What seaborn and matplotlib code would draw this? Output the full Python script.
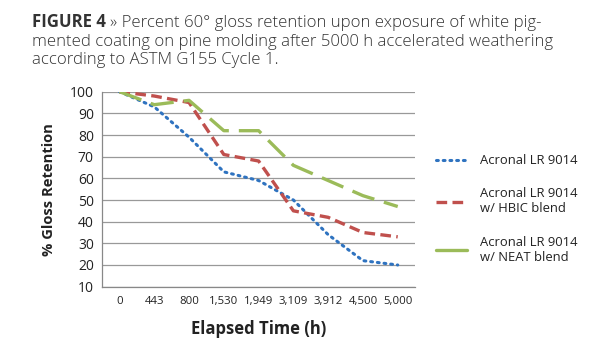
import matplotlib
matplotlib.use("Agg")
import matplotlib.pyplot as plt
import seaborn as sns
import pandas as pd
from matplotlib.lines import Line2D

categories = ["0", "443", "800", "1,530", "1,949", "3,109", "3,912", "4,500", "5,000"]
acronal = [100, 93, 79, 63, 59, 50, 34, 22, 20]
hbic = [100, 98, 95, 71, 68, 45, 42, 35, 33]
neat = [100, 94, 96, 82, 82, 66, 59, 52, 47]
series_names = ["Acronal LR 9014", "Acronal LR 9014\nw/ HBIC blend", "Acronal LR 9014\nw/ NEAT blend"]
yticks = [10, 20, 30, 40, 50, 60, 70, 80, 90, 100]

sns.set_theme(style="white")
plt.rcParams["font.family"] = ["Open Sans", "DejaVu Sans"]

rows = []
for name, vals in zip(series_names, [acronal, hbic, neat]):
    for i, (c, v) in enumerate(zip(categories, vals)):
        rows.append({"pos": i, "cat": c, "value": v, "series": name})
df = pd.DataFrame(rows)

colors = {series_names[0]: "#2F73C0", series_names[1]: "#C0504D", series_names[2]: "#9BBB59"}
dashes = {series_names[0]: (0.6, 1.6), series_names[1]: (3.2, 1.6), series_names[2]: (7, 3)}
widths = {series_names[0]: 2.2, series_names[1]: 2.4, series_names[2]: 2.4}

fig = plt.figure(figsize=(6.15, 3.5), dpi=100)
ax = fig.add_axes([0.166, 0.181, 0.509, 0.557])

for name in series_names:
    sub = df[df["series"] == name]
    sns.lineplot(data=sub, x="pos", y="value", ax=ax, color=colors[name],
                 linewidth=widths[name], legend=False, sort=False)
    ln = ax.lines[-1]
    ln.set_dashes(dashes[name])
    ln.set_dash_capstyle("round" if name == series_names[0] else "butt")

ax.set_xlim(-0.5, len(categories) - 0.5)
ax.set_ylim(10, 100)
ax.set_yticks(yticks)
ax.set_yticklabels([str(t) for t in yticks], fontsize=10, color="#222222")
ax.set_xticks(range(len(categories)))
ax.set_xticklabels(categories, fontsize=8.2, color="#222222")
ax.set_xticks([i - 0.5 for i in range(len(categories) + 1)], minor=True)
ax.tick_params(axis="x", which="major", length=0, pad=7)
ax.tick_params(axis="x", which="minor", length=4, color="#888888", width=0.8, direction="out")
ax.tick_params(axis="y", length=4, color="#888888", width=0.8, direction="out", pad=2)
ax.xaxis.set_tick_params(bottom=True)
ax.yaxis.grid(True, color="#999999", linewidth=0.9)
ax.xaxis.grid(False)
for s in ["top", "right"]:
    ax.spines[s].set_visible(False)
for s in ["left", "bottom"]:
    ax.spines[s].set_color("#888888")
    ax.spines[s].set_linewidth(0.9)
ax.set_xlabel("Elapsed Time (h)", fontsize=12, fontweight="bold", color="#222222", labelpad=9)
ax.set_ylabel("% Gloss Retention", fontsize=10.6, fontweight="bold", color="#222222", labelpad=10)

handles = []
for name in series_names:
    h = Line2D([0], [0], color=colors[name], linewidth=widths[name])
    if name != series_names[2]:
        h.set_dashes(dashes[name])
    if name == series_names[0]:
        h.set_dash_capstyle("round")
    handles.append(h)
fig.legend(handles, series_names, loc="upper left", bbox_to_anchor=(0.69, 0.593),
           frameon=False, fontsize=9.4, labelspacing=1.55, handlelength=2.4,
           handletextpad=1.0, labelcolor="#222222")

# Title
fig.canvas.draw()
r = fig.canvas.get_renderer()
fs = 12.1
t1 = fig.text(32 / 615, 1 - 27 / 350, "FIGURE 4", fontsize=fs, fontweight="bold", color="#333333")
bb = t1.get_window_extent(renderer=r)
x2 = (bb.x1 + 4) / fig.bbox.width
fig.text(x2, 1 - 27 / 350, "\u00bb Percent 60\u00b0 gloss retention upon exposure of white pig-",
         fontsize=fs, fontweight="light", color="#333333")
fig.text(32 / 615, 1 - 45.5 / 350, "mented coating on pine molding after 5000 h accelerated weathering",
         fontsize=fs, fontweight="light", color="#333333")
fig.text(32 / 615, 1 - 64 / 350, "according to ASTM G155 Cycle 1.", fontsize=fs, fontweight="light", color="#333333")

fig.savefig("out.png", dpi=100)
